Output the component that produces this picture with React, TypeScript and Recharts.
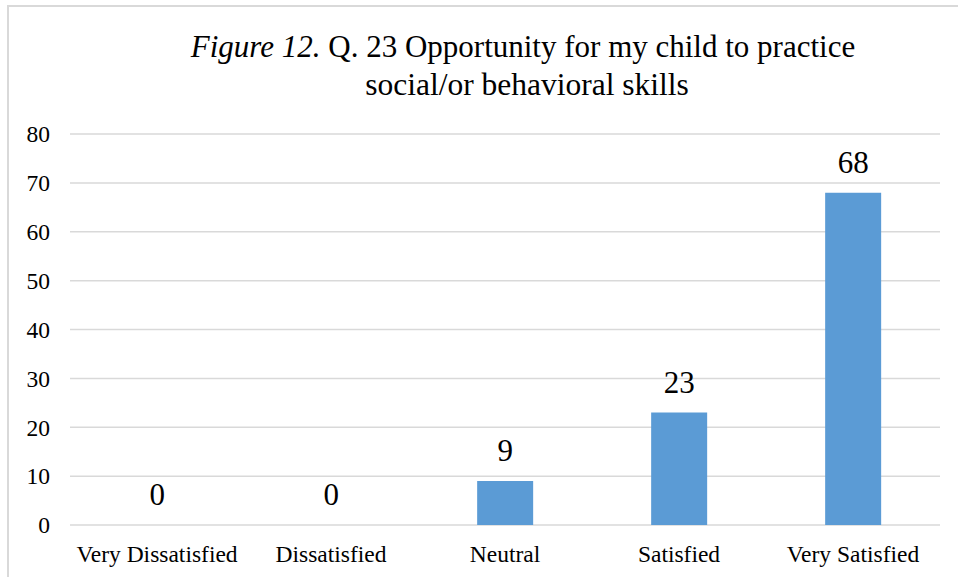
import { Bar, BarChart, CartesianGrid, Cell, LabelList, XAxis, YAxis } from "recharts";

const categories = ["Very Dissatisfied", "Dissatisfied", "Neutral", "Satisfied", "Very Satisfied"];
const counts = [0, 0, 9, 23, 68];
const yTicks = [0, 10, 20, 30, 40, 50, 60, 70, 80];

const data = categories.map((name, i) => ({ name, count: counts[i] }));

const serif = '"Liberation Serif", "Times New Roman", serif';

export default function App() {
  return (
    <div style={{ position: "absolute", left: 0, top: 0, width: 958, height: 577, background: "#fff", overflow: "hidden" }}>
      <div
        style={{
          position: "absolute",
          left: 7,
          top: 5,
          width: 970,
          height: 590,
          borderLeft: "2px solid #d9d9d9",
          borderTop: "2px solid #d9d9d9",
          boxSizing: "border-box",
        }}
      />
      <svg width={958} height={120} style={{ position: "absolute", left: 0, top: 0 }}>
        <text x={523} y={57} textAnchor="middle" fontFamily={serif} fontSize={31} fill="#000">
          <tspan fontStyle="italic">Figure 12.</tspan> Q. 23 Opportunity for my child to practice
        </text>
        <text x={527} y={95} textAnchor="middle" fontFamily={serif} fontSize={31.5} fill="#000">
          social/or behavioral skills
        </text>
      </svg>
      <BarChart
        width={958}
        height={577}
        data={data}
        margin={{ top: 134, right: 18, left: 0, bottom: 0 }}
        barCategoryGap="34%"
        style={{ position: "absolute", left: 0, top: 0 }}
      >
        <CartesianGrid stroke="#d9d9d9" strokeWidth={1.5} vertical={false} />
        <XAxis
          dataKey="name"
          height={52}
          axisLine={false}
          tickLine={false}
          tickSize={0}
          tickMargin={20}
          interval={0}
          tick={{ fill: "#000", fontSize: 23.5, fontFamily: serif }}
        />
        <YAxis
          width={70}
          domain={[0, 80]}
          ticks={yTicks}
          axisLine={false}
          tickLine={false}
          tickSize={0}
          tickMargin={20}
          tick={{ fill: "#000", fontSize: 23.5, fontFamily: serif }}
        />
        <Bar dataKey="count" fill="#5b9bd5" minPointSize={0.5} isAnimationActive={false}>
          {data.map((d) => (
            <Cell key={d.name} fill={d.count === 0 ? "transparent" : "#5b9bd5"} />
          ))}
          <LabelList dataKey="count" position="top" offset={20} fill="#000" fontSize={31} fontFamily={serif} />
        </Bar>
      </BarChart>
    </div>
  );
}
